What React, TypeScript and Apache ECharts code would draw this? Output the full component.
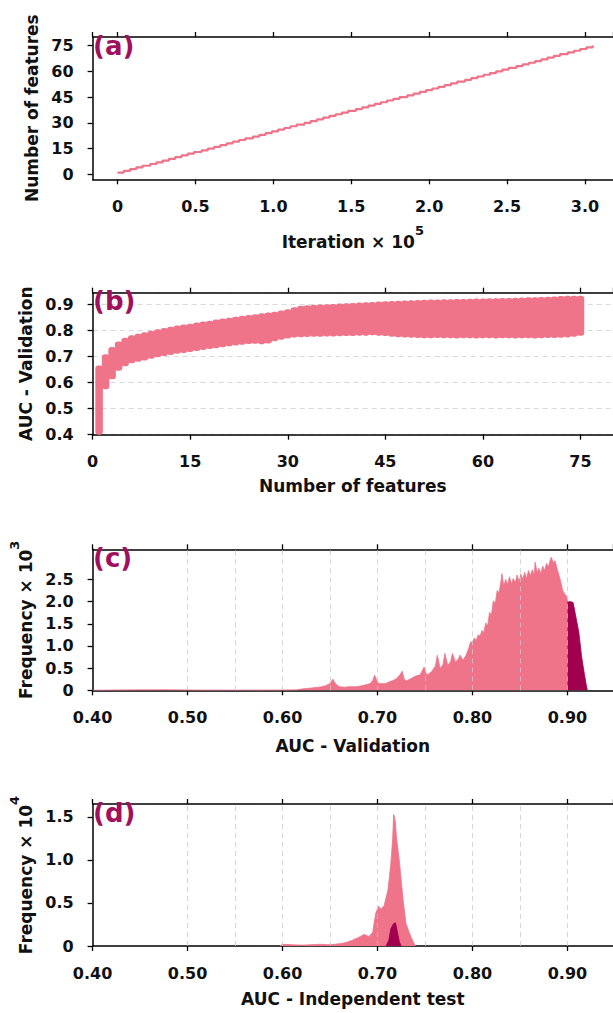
import React, { useEffect, useRef } from "react";
import * as echarts from "echarts";

// ---------- styling constants ----------
const PINK = "#EF7389";
const DARK = "#A1004F";
const LABEL_COLOR = "#A0105C";
const FONT = "DejaVu Sans";

// ---------- panel (a): number of features vs iteration (x 1e5) ----------
const A_FEATURE_COUNTS = [
  1, 2, 3, 4, 5, 6, 7, 8, 9, 10, 11, 12, 13, 14, 15, 16, 17, 18, 19, 20,
  21, 22, 23, 24, 25, 26, 27, 28, 29, 30, 31, 32, 33, 34, 35, 36, 37, 38, 39, 40,
  41, 42, 43, 44, 45, 46, 47, 48, 49, 50, 51, 52, 53, 54, 55, 56, 57, 58, 59, 60,
  61, 62, 63, 64, 65, 66, 67, 68, 69, 70, 71, 72, 73, 74, 75,
];
const A_ITERATION = [
  0.0, 0.04, 0.08, 0.12, 0.16, 0.21, 0.25, 0.29, 0.33, 0.37, 0.41, 0.45, 0.49, 0.54, 0.58,
  0.62, 0.66, 0.7, 0.74, 0.78, 0.82, 0.87, 0.91, 0.95, 0.99, 1.03, 1.07, 1.11, 1.15, 1.2,
  1.24, 1.28, 1.32, 1.36, 1.4, 1.44, 1.48, 1.53, 1.57, 1.61, 1.65, 1.69, 1.73, 1.77, 1.81,
  1.86, 1.9, 1.94, 1.98, 2.02, 2.06, 2.1, 2.14, 2.18, 2.23, 2.27, 2.31, 2.35, 2.39, 2.43,
  2.47, 2.51, 2.56, 2.6, 2.64, 2.68, 2.72, 2.76, 2.8, 2.84, 2.89, 2.93, 2.97, 3.01, 3.05,
];

// ---------- panel (b): AUC validation range per number of features ----------
const B_FEATURES = A_FEATURE_COUNTS;
const B_LOW = [
  0.38, 0.58, 0.619, 0.651, 0.668, 0.68, 0.686, 0.691, 0.697, 0.703,
  0.708, 0.712, 0.716, 0.719, 0.723, 0.727, 0.731, 0.735, 0.738, 0.741,
  0.745, 0.748, 0.751, 0.754, 0.755, 0.753, 0.756, 0.764, 0.77, 0.775,
  0.779, 0.78, 0.781, 0.782, 0.782, 0.783, 0.783, 0.784, 0.785, 0.785,
  0.786, 0.786, 0.787, 0.786, 0.785, 0.782, 0.78, 0.779, 0.778, 0.777,
  0.776, 0.776, 0.777, 0.776, 0.776, 0.775, 0.776, 0.776, 0.775, 0.776,
  0.776, 0.775, 0.776, 0.776, 0.775, 0.776, 0.776, 0.775, 0.776, 0.777,
  0.777, 0.778, 0.779, 0.782, 0.786,
];
const B_HIGH = [
  0.66, 0.703, 0.731, 0.752, 0.766, 0.776, 0.782, 0.787, 0.793, 0.799,
  0.804, 0.809, 0.813, 0.817, 0.82, 0.825, 0.829, 0.832, 0.836, 0.84,
  0.843, 0.847, 0.851, 0.854, 0.857, 0.86, 0.863, 0.866, 0.871, 0.876,
  0.883, 0.889, 0.891, 0.893, 0.894, 0.895, 0.896, 0.898, 0.899, 0.9,
  0.902, 0.903, 0.904, 0.905, 0.906, 0.907, 0.908, 0.909, 0.91, 0.911,
  0.912, 0.913, 0.913, 0.914, 0.914, 0.915, 0.915, 0.916, 0.917, 0.917,
  0.918, 0.918, 0.919, 0.919, 0.92, 0.921, 0.922, 0.922, 0.923, 0.924,
  0.925, 0.927, 0.928, 0.928, 0.928,
];

// ---------- panel (c): histogram of validation AUC (frequency x 1e3) ----------
const C_AUC = [
  0.4, 0.42, 0.45, 0.48, 0.5, 0.52, 0.55, 0.6, 0.615, 0.62, 0.63, 0.64, 0.645, 0.65, 0.653,
  0.656, 0.66, 0.665, 0.67, 0.678, 0.685, 0.692, 0.695, 0.697, 0.7, 0.702, 0.708, 0.716,
  0.72, 0.724, 0.726, 0.728, 0.73, 0.735, 0.74, 0.745, 0.749, 0.752, 0.757, 0.761, 0.763,
  0.766, 0.769, 0.771, 0.774, 0.777, 0.779, 0.782, 0.785, 0.787, 0.79, 0.793, 0.796,
  0.798, 0.8, 0.802, 0.804, 0.806, 0.808, 0.81, 0.812, 0.814, 0.816, 0.818, 0.82, 0.822,
  0.824, 0.826, 0.828, 0.83, 0.831, 0.833, 0.835, 0.837, 0.839, 0.841, 0.843, 0.845,
  0.847, 0.849, 0.851, 0.853, 0.855, 0.857, 0.859, 0.861, 0.863, 0.865, 0.866, 0.868,
  0.87, 0.872, 0.874, 0.876, 0.878, 0.88, 0.882, 0.883, 0.885, 0.887, 0.889, 0.891,
  0.893, 0.895, 0.897, 0.899, 0.9, 0.9001,
];
const C_FREQ = [
  0.0, 0.006, 0.01, 0.012, 0.008, 0.004, 0.003, 0.006, 0.01, 0.03, 0.05, 0.075, 0.1, 0.15, 0.25,
  0.14, 0.08, 0.07, 0.08, 0.08, 0.11, 0.15, 0.22, 0.34, 0.18, 0.15, 0.15, 0.22,
  0.26, 0.36, 0.43, 0.26, 0.21, 0.26, 0.32, 0.35, 0.52, 0.34, 0.42, 0.55, 0.79,
  0.49, 0.58, 0.83, 0.56, 0.65, 0.83, 0.64, 0.7, 0.79, 0.68, 0.78, 0.94,
  1.09, 1.08, 1.18, 1.12, 1.25, 1.22, 1.35, 1.3, 1.52, 1.45, 1.76, 1.7, 2.02,
  1.95, 2.25, 2.2, 2.45, 2.63, 2.35, 2.5, 2.38, 2.56, 2.4, 2.52, 2.42,
  2.6, 2.45, 2.62, 2.5, 2.66, 2.52, 2.7, 2.58, 2.72, 2.6, 2.89, 2.66,
  2.75, 2.63, 2.8, 2.7, 2.86, 2.78, 2.95, 3.0, 2.88, 2.92, 2.75, 2.6,
  2.45, 2.25, 2.18, 2.12, 2.05, 0,
];
const C_TOP_AUC = [0.9, 0.903, 0.906, 0.909, 0.912, 0.915, 0.918, 0.92, 0.921];
const C_TOP_FREQ = [1.99, 2.0, 1.98, 1.65, 1.31, 0.75, 0.35, 0.1, 0];
const C_Y_TICKS = [0, 0.5, 1.0, 1.5, 2.0, 2.5];

// ---------- panel (d): histogram of independent-test AUC (frequency x 1e4) ----------
const D_AUC = [
  0.597, 0.6, 0.61, 0.62, 0.63, 0.64, 0.648, 0.655, 0.6625, 0.668, 0.673, 0.68, 0.686,
  0.691, 0.695, 0.698, 0.701, 0.704, 0.707, 0.711, 0.714, 0.716, 0.717, 0.7186, 0.72,
  0.723, 0.727, 0.73, 0.734, 0.7375, 0.74,
];
const D_FREQ = [
  0.0, 0.02, 0.015, 0.01, 0.015, 0.02, 0.015, 0.02, 0.03, 0.045, 0.065, 0.1, 0.135,
  0.11, 0.16, 0.375, 0.46, 0.43, 0.47, 0.65, 0.95, 1.25, 1.53, 1.46, 1.26,
  0.99, 0.53, 0.26, 0.14, 0.05, 0.0,
];
const D_TOP_AUC = [0.709, 0.712, 0.714, 0.717, 0.719, 0.721, 0.723, 0.725];
const D_TOP_FREQ = [0, 0.07, 0.2, 0.26, 0.27, 0.16, 0.05, 0];

// dashed reference lines of panels (c) and (d)
const HIST_GRID_LINES = [0.5, 0.55, 0.6, 0.65, 0.7, 0.75, 0.8, 0.85, 0.9, 0.95];

const zip = (xs: number[], ys: number[]) => xs.map((x, i) => [x, ys[i]]);

const tickText = { fontFamily: FONT, fontWeight: "bold" as const, color: "#111", fontSize: 16 };
const nameText = (rich?: any) => ({
  fontFamily: FONT,
  fontWeight: "bold" as const,
  color: "#111",
  fontSize: 17,
  rich,
});
const supRich = {
  n: { fontFamily: FONT, fontWeight: "bold", color: "#111", fontSize: 17, lineHeight: 26, verticalAlign: "bottom" },
  s: { fontFamily: FONT, fontWeight: "bold", color: "#111", fontSize: 13, lineHeight: 13, verticalAlign: "top" },
};

const axisLine = { show: true, onZero: false, lineStyle: { color: "#000", width: 1.5 } };
const axisTick = { show: true, length: 5, lineStyle: { color: "#000", width: 1.3 } };

function xPair(
  gridIndex: number,
  min: number,
  max: number,
  interval: number,
  fmt: (v: number) => string,
  showMin: boolean,
  name: string,
  nameGap: number,
  rich?: any
) {
  return [
    {
      type: "value",
      gridIndex,
      position: "bottom",
      min,
      max,
      minInterval: interval,
      maxInterval: interval,
      axisLine,
      axisTick,
      axisLabel: { ...tickText, margin: 19, formatter: fmt, showMinLabel: showMin, showMaxLabel: false },
      splitLine: { show: false },
      name,
      nameLocation: "middle",
      nameGap,
      nameTextStyle: nameText(rich),
    },
    {
      type: "value",
      gridIndex,
      position: "top",
      min,
      max,
      minInterval: interval,
      maxInterval: interval,
      axisLine,
      axisTick,
      axisLabel: { show: false },
      splitLine: { show: false },
    },
  ];
}

function yAxis(
  gridIndex: number,
  min: number,
  max: number,
  interval: number,
  fmt: (v: number) => string,
  showMin: boolean,
  name: string,
  nameGap: number,
  dashed: boolean,
  rich?: any,
  custom?: number[]
) {
  const ax: any = {
    type: "value",
    gridIndex,
    min,
    max,
    minInterval: interval,
    maxInterval: interval,
    axisLine,
    axisTick: { ...axisTick },
    axisLabel: { ...tickText, margin: 19, formatter: fmt, showMinLabel: showMin, showMaxLabel: false },
    splitLine: {
      show: dashed,
      lineStyle: { type: [5, 4], color: "#d9d9d9", width: 1 },
    },
    name,
    nameLocation: "middle",
    nameGap,
    nameTextStyle: nameText(rich),
  };
  if (custom) {
    ax.axisTick.customValues = custom;
    ax.axisLabel.customValues = custom;
    ax.axisLabel.showMaxLabel = true;
    ax.axisLabel.showMinLabel = true;
  }
  return ax;
}

const fmt1 = (v: number) => (Math.abs(v) < 1e-9 ? "0" : v.toFixed(1));
const fmtInt = (v: number) => String(Math.round(v));
const fmt2 = (v: number) => v.toFixed(2);

function histSeries(xi: number, yi: number, xs: number[], ys: number[], color: string, withGrid: boolean, z: number) {
  const s: any = {
    type: "line",
    xAxisIndex: xi,
    yAxisIndex: yi,
    data: zip(xs, ys),
    symbol: "none",
    showSymbol: false,
    z,
    lineStyle: { color, width: 0.8 },
    itemStyle: { color },
    areaStyle: { color, opacity: 1 },
  };
  if (withGrid) {
    s.markLine = {
      silent: true,
      symbol: ["none", "none"],
      label: { show: false },
      lineStyle: { type: [5, 4], color: "rgba(200,200,200,0.75)", width: 1 },
      data: HIST_GRID_LINES.map((x) => ({ xAxis: x })),
      z: 10,
    };
  }
  return s;
}

export default function App() {
  const ref = useRef<HTMLDivElement>(null);

  useEffect(() => {
    if (!ref.current) return;
    const chart = echarts.init(ref.current, undefined, { renderer: "svg" });

    const option: any = {
      animation: false,
      backgroundColor: "#fff",
      grid: [
        { left: 92.6, top: 37, right: 0, height: 142.3 },
        { left: 92.6, top: 292.7, right: 0, height: 142 },
        { left: 92.6, top: 549.3, right: 0, height: 141 },
        { left: 92.6, top: 804, right: 0, height: 142 },
      ],
      xAxis: [
        ...xPair(0, -0.16, 3.18, 0.5, fmt1, false, "{n|Iteration × 10}{s|5}", 45, supRich),
        ...xPair(1, 0, 80, 15, fmtInt, true, "Number of features", 43),
        ...xPair(2, 0.4, 0.948, 0.1, fmt2, true, "AUC - Validation", 47),
        ...xPair(3, 0.4, 0.948, 0.1, fmt2, true, "AUC - Independent test", 44),
      ],
      yAxis: [
        yAxis(0, -2.9, 80, 15, fmtInt, false, "Number of features", 50, false),
        yAxis(1, 0.4, 0.945, 0.1, fmt1, true, "AUC - Validation", 50, true),
        yAxis(2, 0, 3.18, 0.5, fmt1, true, "{n|Frequency × 10}{s|3}", 52, false, supRich, C_Y_TICKS),
        yAxis(3, 0, 1.65, 0.5, fmt1, true, "{n|Frequency × 10}{s|4}", 52, false, supRich),
      ],
      graphic: [
        { type: "text", left: 93, top: 33, z: 100, style: { text: "(a)", font: `bold 26px "${FONT}"`, fill: LABEL_COLOR } },
        { type: "text", left: 93, top: 288, z: 100, style: { text: "(b)", font: `bold 26px "${FONT}"`, fill: LABEL_COLOR } },
        { type: "text", left: 93, top: 545, z: 100, style: { text: "(c)", font: `bold 26px "${FONT}"`, fill: LABEL_COLOR } },
        { type: "text", left: 93, top: 800, z: 100, style: { text: "(d)", font: `bold 26px "${FONT}"`, fill: LABEL_COLOR } },
      ],
      series: [
        {
          type: "line",
          xAxisIndex: 0,
          yAxisIndex: 0,
          step: "end",
          data: zip(A_ITERATION, A_FEATURE_COUNTS),
          symbol: "none",
          showSymbol: false,
          lineStyle: { color: PINK, width: 2.2 },
          itemStyle: { color: PINK },
        },
        {
          type: "custom",
          xAxisIndex: 2,
          yAxisIndex: 1,
          data: B_FEATURES.map((n, i) => [n, B_LOW[i], B_HIGH[i]]),
          encode: { x: 0, y: [1, 2] },
          renderItem: (params: any, api: any) => {
            const n = api.value(0);
            const lo = api.value(1);
            const hi = api.value(2);
            const p1 = api.coord([n - 0.58, hi]);
            const p2 = api.coord([n + 0.58, lo]);
            const cs = params.coordSys;
            const rect = echarts.graphic.clipRectByRect(
              { x: p1[0], y: p1[1] - 1.5, width: p2[0] - p1[0], height: p2[1] - p1[1] + 3 },
              { x: cs.x, y: cs.y, width: cs.width, height: cs.height }
            );
            if (!rect) return null;
            return {
              type: "rect",
              shape: { ...rect, r: 3 },
              style: { fill: PINK },
            };
          },
        },
        histSeries(4, 2, C_AUC, C_FREQ, PINK, true, 2),
        histSeries(4, 2, C_TOP_AUC, C_TOP_FREQ, DARK, false, 3),
        histSeries(6, 3, D_AUC, D_FREQ, PINK, true, 2),
        histSeries(6, 3, D_TOP_AUC, D_TOP_FREQ, DARK, false, 3),
      ],
    };

    chart.setOption(option);
    return () => chart.dispose();
  }, []);

  return (
    <div
      ref={ref}
      style={{ position: "absolute", left: 0, top: 0, width: 613, height: 1013, background: "#fff" }}
    />
  );
}
